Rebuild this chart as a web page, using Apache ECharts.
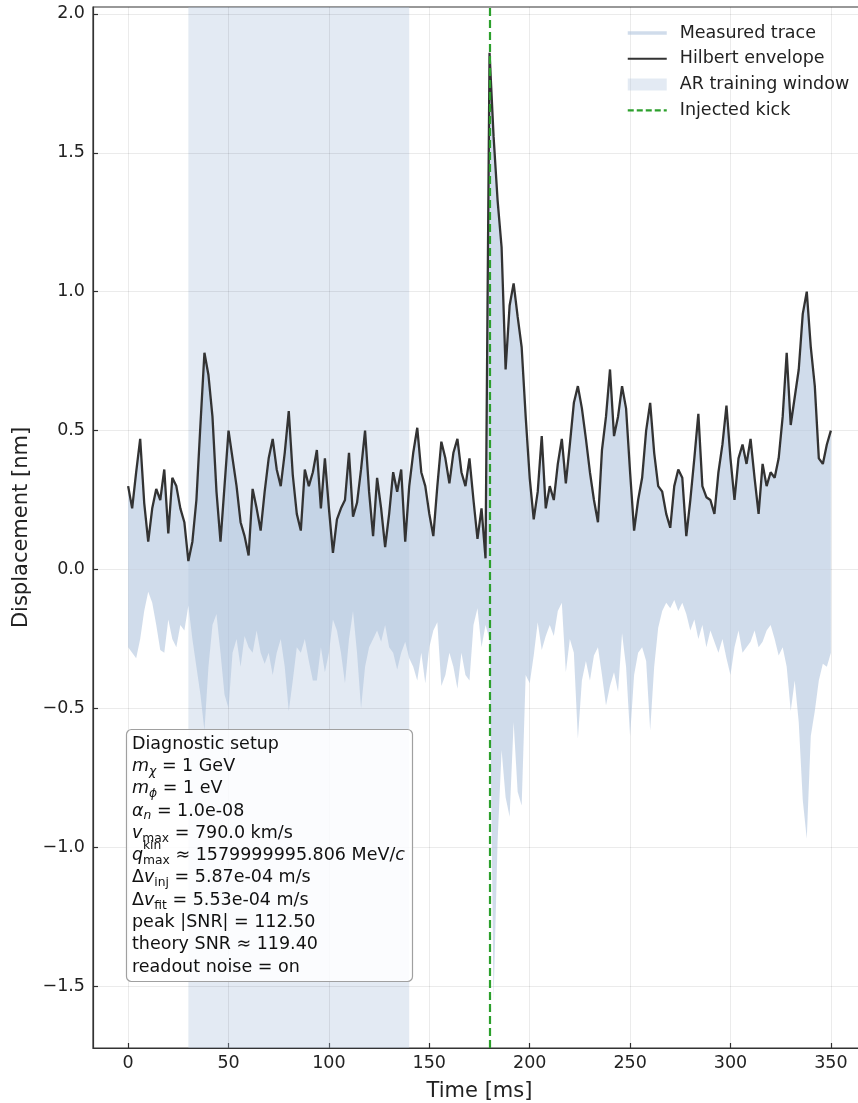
<!DOCTYPE html>
<html>
<head>
<meta charset="utf-8">
<script src="https://cdn.jsdelivr.net/npm/echarts@6.0.0/dist/echarts.min.js"></script>
<style>
html, body { margin: 0; padding: 0; background: #fff; overflow: hidden; }
#chart { width: 866px; height: 1103px; }
</style>
</head>
<body>
<div id="chart"></div>
<script>
// sample times [ms]
const time = [
  0, 2, 4, 6, 8, 10, 12, 14, 16, 18, 20, 22, 24, 26, 28, 30, 32, 34, 36, 38,
  40, 42, 44, 46, 48, 50, 52, 54, 56, 58, 60, 62, 64, 66, 68, 70, 72, 74, 76, 78,
  80, 82, 84, 86, 88, 90, 92, 94, 96, 98, 100, 102, 104, 106, 108, 110, 112, 114, 116, 118,
  120, 122, 124, 126, 128, 130, 132, 134, 136, 138, 140, 142, 144, 146, 148, 150, 152, 154, 156, 158,
  160, 162, 164, 166, 168, 170, 172, 174, 176, 178, 180, 182, 184, 186, 188, 190, 192, 194, 196, 198,
  200, 202, 204, 206, 208, 210, 212, 214, 216, 218, 220, 222, 224, 226, 228, 230, 232, 234, 236, 238,
  240, 242, 244, 246, 248, 250, 252, 254, 256, 258, 260, 262, 264, 266, 268, 270, 272, 274, 276, 278,
  280, 282, 284, 286, 288, 290, 292, 294, 296, 298, 300, 302, 304, 306, 308, 310, 312, 314, 316, 318,
  320, 322, 324, 326, 328, 330, 332, 334, 336, 338, 340, 342, 344, 346, 348, 350
];

// Hilbert envelope [nm] (also the top of the measured trace band)
const envelope = [
  0.30, 0.22, 0.35, 0.47, 0.24, 0.10, 0.22, 0.29, 0.25, 0.36,
  0.13, 0.33, 0.30, 0.22, 0.17, 0.03, 0.10, 0.25, 0.52, 0.78,
  0.70, 0.55, 0.28, 0.10, 0.30, 0.50, 0.40, 0.30, 0.17, 0.12,
  0.05, 0.29, 0.22, 0.14, 0.28, 0.40, 0.47, 0.36, 0.30, 0.42,
  0.57, 0.34, 0.20, 0.14, 0.36, 0.30, 0.35, 0.43, 0.22, 0.40,
  0.22, 0.06, 0.18, 0.22, 0.25, 0.42, 0.19, 0.24, 0.36, 0.50,
  0.28, 0.12, 0.33, 0.22, 0.08, 0.20, 0.35, 0.28, 0.36, 0.10,
  0.30, 0.42, 0.51, 0.35, 0.30, 0.20, 0.12, 0.30, 0.46, 0.40,
  0.31, 0.42, 0.47, 0.35, 0.30, 0.40, 0.25, 0.11, 0.22, 0.04,
  1.86, 1.56, 1.33, 1.16, 0.72, 0.95, 1.03, 0.91, 0.80, 0.55,
  0.33, 0.18, 0.28, 0.48, 0.22, 0.30, 0.25, 0.38, 0.47, 0.31,
  0.45, 0.60, 0.66, 0.58, 0.47, 0.35, 0.25, 0.17, 0.43, 0.55,
  0.72, 0.48, 0.55, 0.66, 0.58, 0.35, 0.14, 0.25, 0.33, 0.50,
  0.60, 0.42, 0.30, 0.28, 0.20, 0.15, 0.30, 0.36, 0.33, 0.12,
  0.25, 0.40, 0.56, 0.30, 0.26, 0.25, 0.20, 0.35, 0.45, 0.59,
  0.40, 0.25, 0.40, 0.45, 0.38, 0.47, 0.33, 0.20, 0.38, 0.30,
  0.35, 0.33, 0.40, 0.55, 0.78, 0.52, 0.62, 0.72, 0.92, 1.00,
  0.80, 0.66, 0.40, 0.38, 0.45, 0.50
];

// lowest excursion of the measured trace [nm]
const traceLow = [
  -0.28, -0.30, -0.32, -0.25, -0.15, -0.08, -0.12, -0.20, -0.29, -0.30,
  -0.18, -0.25, -0.28, -0.20, -0.22, -0.13, -0.25, -0.35, -0.45, -0.58,
  -0.35, -0.20, -0.16, -0.30, -0.45, -0.50, -0.30, -0.25, -0.35, -0.24,
  -0.28, -0.30, -0.22, -0.30, -0.34, -0.30, -0.38, -0.30, -0.25, -0.35,
  -0.51, -0.40, -0.28, -0.30, -0.25, -0.33, -0.40, -0.40, -0.28, -0.37,
  -0.30, -0.18, -0.22, -0.30, -0.41, -0.25, -0.15, -0.30, -0.50, -0.35,
  -0.28, -0.25, -0.22, -0.26, -0.20, -0.28, -0.30, -0.36, -0.30, -0.26,
  -0.32, -0.35, -0.40, -0.30, -0.41, -0.28, -0.22, -0.19, -0.42, -0.38,
  -0.30, -0.35, -0.43, -0.30, -0.38, -0.40, -0.20, -0.14, -0.28, -0.20,
  -0.25, -1.55, -0.98, -0.65, -0.82, -0.89, -0.55, -0.80, -0.85, -0.38,
  -0.41, -0.31, -0.19, -0.29, -0.24, -0.20, -0.24, -0.15, -0.12, -0.37,
  -0.25, -0.30, -0.61, -0.40, -0.33, -0.40, -0.31, -0.28, -0.38, -0.49,
  -0.42, -0.37, -0.44, -0.23, -0.35, -0.60, -0.38, -0.30, -0.28, -0.33,
  -0.58, -0.35, -0.21, -0.15, -0.12, -0.14, -0.11, -0.15, -0.12, -0.16,
  -0.22, -0.18, -0.25, -0.20, -0.28, -0.22, -0.26, -0.30, -0.25, -0.32,
  -0.38, -0.28, -0.22, -0.30, -0.28, -0.26, -0.22, -0.28, -0.26, -0.22,
  -0.20, -0.25, -0.31, -0.28, -0.35, -0.51, -0.40, -0.55, -0.83, -0.97,
  -0.60, -0.51, -0.40, -0.34, -0.35, -0.30
];

const xTicks = [0, 50, 100, 150, 200, 250, 300, 350];
const yTicks = [-1.5, -1.0, -0.5, 0.0, 0.5, 1.0, 1.5, 2.0];
const trainWindow = [30, 140];
const kickTime = 180;

const FONT = 'DejaVu Sans';
const TRACE = '#b0c4de';
const FS = 17.5;

const setupText = [
  'Diagnostic setup',
  '{i|m}{sub|χ} = 1 GeV',
  '{i|m}{sub|ϕ} = 1 eV',
  '{i|α}{sub|n} = 1.0e-08',
  '{i|v}{subr|max} = 790.0 km/s',
  '{i|q}{subr|max} ≈ 1579999995.806 MeV/{i|c}',
  'Δ{i|v}{subr|inj} = 5.87e-04 m/s',
  'Δ{i|v}{subr|fit} = 5.53e-04 m/s',
  'peak |SNR| = 112.50',
  'theory SNR ≈ 119.40',
  'readout noise = on'
].join('\n');

const pairs = (xs, ys) => xs.map((x, i) => [x, ys[i]]);
const minus = s => s.replace('-', '\u2212');

const chart = echarts.init(document.getElementById('chart'), null, { renderer: 'canvas' });

const option = {
  animation: false,
  backgroundColor: '#fff',
  grid: {
    left: 93, top: 7, bottom: 55, right: 0,
    outerBoundsMode: 'none', containLabel: false,
    show: true, borderColor: '#333', borderWidth: 1.2, backgroundColor: 'transparent'
  },
  legend: {
    orient: 'vertical',
    left: 621, top: 19,
    itemWidth: 39, itemHeight: 12, itemGap: 7.8,
    textStyle: { fontFamily: FONT, fontSize: FS, color: '#222', padding: [0, 0, 0, 8] },
    data: [
      { name: 'Measured trace', itemStyle: { opacity: 0 }, lineStyle: { color: TRACE, width: 3.5, opacity: 0.6 } },
      { name: 'Hilbert envelope', itemStyle: { opacity: 0 }, lineStyle: { color: '#333', width: 2 } },
      { name: 'AR training window', icon: 'rect', itemStyle: { color: TRACE, opacity: 0.35 } },
      { name: 'Injected kick', itemStyle: { opacity: 0 }, lineStyle: { color: '#2ca02c', width: 2.2, type: [6, 3] } }
    ]
  },
  xAxis: {
    type: 'value', min: -17.5, max: 367.5,
    name: 'Time [ms]', nameLocation: 'middle', nameGap: 33,
    nameTextStyle: { fontFamily: FONT, fontSize: 21, color: '#222' },
    axisLine: { show: true, onZero: false, lineStyle: { color: '#333', width: 1.2 } },
    axisTick: { show: true, inside: true, length: 5, customValues: xTicks, lineStyle: { color: '#333', width: 1.2 } },
    axisLabel: { customValues: xTicks, fontFamily: FONT, fontSize: FS, color: '#222', margin: 6, formatter: v => String(v) },
    splitLine: { show: false }
  },
  yAxis: {
    type: 'value', min: -1.723, max: 2.025,
    name: 'Displacement [nm]', nameLocation: 'middle', nameGap: 61, nameRotate: 90,
    nameTextStyle: { fontFamily: FONT, fontSize: 21, color: '#222' },
    axisLine: { show: true, onZero: false, lineStyle: { color: '#333', width: 1.2 } },
    axisTick: { show: true, inside: true, length: 5, customValues: yTicks, lineStyle: { color: '#333', width: 1.2 } },
    axisLabel: { customValues: yTicks, fontFamily: FONT, fontSize: FS, color: '#222', margin: 8, formatter: v => minus(v.toFixed(1)) },
    splitLine: { show: false }
  },
  series: [
    {
      name: 'AR training window', type: 'line', data: [], symbol: 'none',
      lineStyle: { width: 0 },
      itemStyle: { color: TRACE, opacity: 0.35 },
      markArea: {
        silent: true, z: 1,
        itemStyle: { color: TRACE, opacity: 0.35 },
        data: [[{ xAxis: trainWindow[0] }, { xAxis: trainWindow[1] }]]
      }
    },
    {
      name: 'gridlines', type: 'line', data: [], symbol: 'none',
      markLine: {
        silent: true, z: 1.5, symbol: ['none', 'none'], label: { show: false },
        lineStyle: { color: 'rgba(0,0,0,0.08)', width: 1, type: 'solid' },
        data: xTicks.map(v => ({ xAxis: v })).concat(yTicks.map(v => ({ yAxis: v })))
      }
    },
    {
      name: 'Measured trace', type: 'line', z: 2, symbol: 'none', showSymbol: false,
      data: pairs(time, envelope),
      lineStyle: { width: 0, color: TRACE },
      itemStyle: { color: TRACE },
      areaStyle: { color: TRACE, opacity: 0.6, origin: 0 }
    },
    {
      name: 'Measured trace', type: 'line', z: 2, symbol: 'none', showSymbol: false,
      data: pairs(time, traceLow),
      lineStyle: { width: 0, color: TRACE },
      itemStyle: { color: TRACE },
      areaStyle: { color: TRACE, opacity: 0.6, origin: 0 }
    },
    {
      name: 'Hilbert envelope', type: 'line', z: 3, symbol: 'none', showSymbol: false,
      data: pairs(time, envelope),
      lineStyle: { color: '#333', width: 2.3 },
      itemStyle: { color: '#333' }
    },
    {
      name: 'Injected kick', type: 'line', data: [], symbol: 'none',
      lineStyle: { color: '#2ca02c', width: 2.2, type: [6, 3] },
      itemStyle: { color: '#2ca02c' },
      markLine: {
        silent: true, z: 5, symbol: ['none', 'none'], label: { show: false },
        lineStyle: { color: '#2ca02c', width: 2.2, type: [8, 4] },
        data: [{ xAxis: kickTime }]
      }
    }
  ],
  graphic: [
    {
      type: 'rect', z: 100,
      shape: { x: 126.5, y: 729.5, width: 286, height: 252, r: 5 },
      style: { fill: 'rgba(255,255,255,0.85)', stroke: '#a0a0a0', lineWidth: 1.2 }
    },
    {
      type: 'text', z: 101, left: 132, top: 733,
      style: {
        text: setupText,
        fontFamily: FONT, fontSize: FS, lineHeight: 22.3, fill: '#111',
        rich: {
          i: { fontFamily: FONT, fontStyle: 'italic', fontSize: FS, lineHeight: 22.3 },
          sub: { fontFamily: FONT, fontStyle: 'italic', fontSize: 12.3, lineHeight: 14.5, verticalAlign: 'bottom' },
          subr: { fontFamily: FONT, fontSize: 12.3, lineHeight: 14.5, verticalAlign: 'bottom' }
        }
      }
    },
    {
      type: 'text', z: 101, left: 143, top: 840,
      style: { text: 'kin', fontFamily: FONT, fontSize: 12.3, fill: '#111' }
    }
  ]
};

chart.setOption(option);
</script>
</body>
</html>
